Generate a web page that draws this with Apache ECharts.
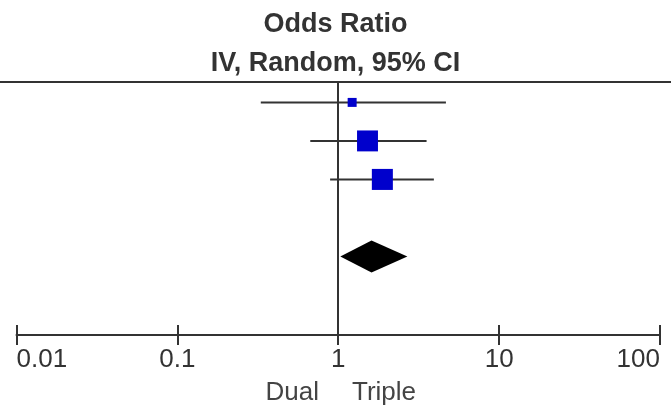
<!DOCTYPE html>
<html><head><meta charset="utf-8">
<script src="https://cdn.jsdelivr.net/npm/echarts@6/dist/echarts.min.js"></script>
<style>html,body{margin:0;padding:0;background:#fff}#c{width:671px;height:407px}</style>
</head><body><div id="c"></div>
<script>
// ---- data ----
const studyRows = [0, 1, 2];
const oddsRatio = [1.22, 1.52, 1.88];
const ciLower = [0.33, 0.67, 0.89];
const ciUpper = [4.67, 3.54, 3.93];
const weights = [8.4, 45.6, 46.0];
const pooledRow = [4];
const pooledOR = [1.61];
const pooledLower = [1.03];
const pooledUpper = [2.69];
const tickValues = [0.01, 0.1, 1, 10, 100];
const tickLabels = ['0.01', '0.1', '1', '10', '100'];
const titleLines = ['Odds Ratio', 'IV, Random, 95% CI'];
const favourLabels = ['Dual', 'Triple'];

// ---- chart ----
const FONT = '"Liberation Sans", Arial, sans-serif';
const INK = '#333';
const chart = echarts.init(document.getElementById('c'), null, {renderer: 'canvas'});

const studyData = studyRows.map((r, i) => [oddsRatio[i], ciLower[i], ciUpper[i], r, weights[i]]);
const pooledData = pooledRow.map((r, i) => [pooledOR[i], pooledLower[i], pooledUpper[i], r]);

function labelFor(v) {
  const i = tickValues.findIndex(t => Math.abs(Math.log10(t) - Math.log10(v)) < 1e-6);
  return i >= 0 ? tickLabels[i] : '';
}

const xBase = {
  type: 'log', logBase: 10, min: tickValues[0], max: tickValues[tickValues.length - 1],
  position: 'bottom', splitLine: {show: false}, gridIndex: 0
};

chart.setOption({
  animation: false,
  backgroundColor: '#fff',
  title: {
    text: titleLines.join('\n'), left: 'center', top: 5, padding: 0,
    textStyle: {fontFamily: FONT, fontWeight: 'bold', fontSize: 27, lineHeight: 39, color: INK}
  },
  grid: {left: 16.5, right: 11, top: 82, bottom: 72, containLabel: false},
  xAxis: [
    Object.assign({}, xBase, {
      axisLine: {show: true, onZero: false, lineStyle: {color: INK, width: 2}},
      axisTick: {show: true, inside: true, length: 10, lineStyle: {color: INK, width: 2}},
      axisLabel: {
        show: true, margin: 12, formatter: labelFor, color: INK,
        fontFamily: FONT, fontSize: 26, alignMinLabel: 'left', alignMaxLabel: 'right',
        showMinLabel: true, showMaxLabel: true
      }
    }),
    Object.assign({}, xBase, {
      axisLine: {show: false, onZero: false},
      axisTick: {show: true, inside: false, length: 10, lineStyle: {color: INK, width: 2}},
      axisLabel: {show: false}
    })
  ],
  yAxis: {type: 'value', min: -0.53, max: 6.04, inverse: true, show: false},
  graphic: [
    {type: 'line', shape: {x1: 0, y1: 82, x2: 671, y2: 82}, style: {stroke: INK, lineWidth: 2}, z: 10},
    {type: 'text', right: 671 - 319, top: 380,
     style: {text: favourLabels[0], font: '26px ' + FONT, fill: '#444'}},
    {type: 'text', left: 352, top: 380,
     style: {text: favourLabels[1], font: '26px ' + FONT, fill: '#444'}}
  ],
  series: [
    {
      type: 'custom', xAxisIndex: 0, yAxisIndex: 0, data: studyData,
      encode: {x: [0, 1, 2], y: 3},
      renderItem: function (params, api) {
        const y = api.value(3);
        const c = api.coord([api.value(0), y]);
        const lo = api.coord([api.value(1), y]);
        const hi = api.coord([api.value(2), y]);
        const s = 3.1 * Math.sqrt(api.value(4));
        return {type: 'group', children: [
          {type: 'line', shape: {x1: lo[0], y1: lo[1], x2: hi[0], y2: hi[1]}, style: {stroke: INK, lineWidth: 2}},
          {type: 'rect', shape: {x: c[0] - s / 2, y: c[1] - s / 2, width: s, height: s}, style: {fill: '#0000CC'}}
        ]};
      },
      markLine: {
        silent: true, symbol: 'none', label: {show: false},
        lineStyle: {color: INK, width: 2, type: 'solid'},
        data: [{xAxis: 1}]
      },
      z: 3
    },
    {
      type: 'custom', xAxisIndex: 0, yAxisIndex: 0, data: pooledData,
      encode: {x: [0, 1, 2], y: 3},
      renderItem: function (params, api) {
        const y = api.value(3);
        const c = api.coord([api.value(0), y]);
        const lo = api.coord([api.value(1), y]);
        const hi = api.coord([api.value(2), y]);
        const h = 16;
        return {type: 'polygon', shape: {points: [[lo[0], c[1]], [c[0], c[1] - h], [hi[0], c[1]], [c[0], c[1] + h]]},
                style: {fill: '#000'}};
      },
      z: 4
    }
  ]
});
</script>
</body></html>
